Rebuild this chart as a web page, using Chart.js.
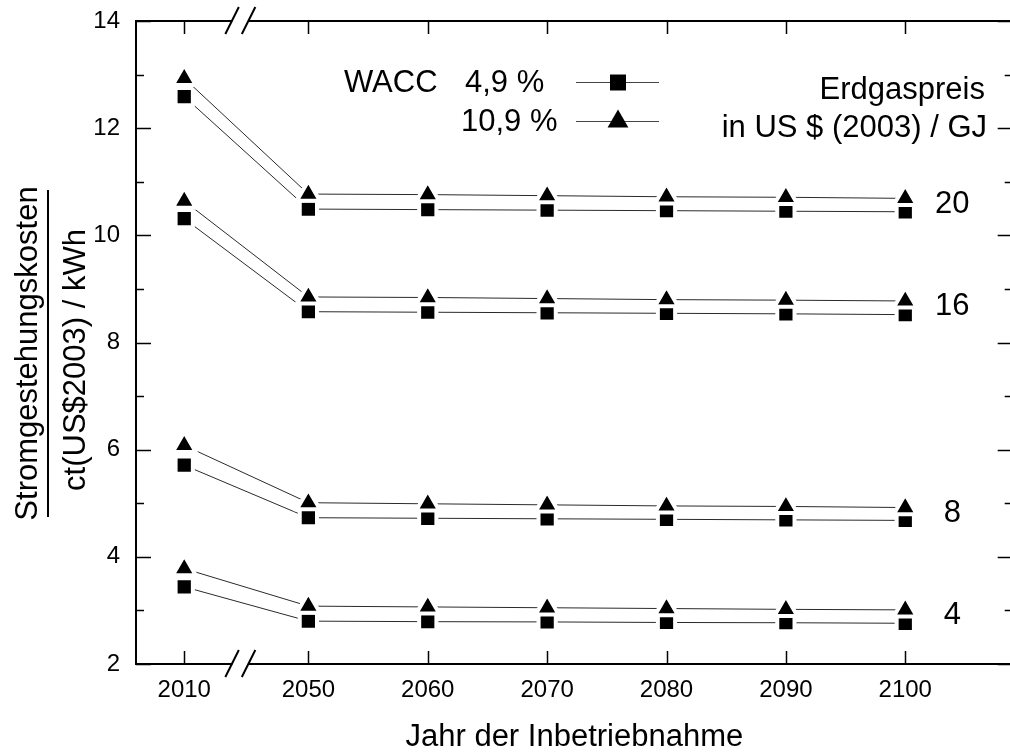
<!DOCTYPE html>
<html lang="de">
<head>
<meta charset="utf-8">
<title>Stromgestehungskosten</title>
<script src="https://cdn.jsdelivr.net/npm/chart.js@4/dist/chart.umd.min.js"></script>
<style>
  html, body { margin: 0; padding: 0; background: #fff; overflow: hidden; }
  #wrap { width: 1030px; height: 756px; }
</style>
</head>
<body>
<div id="wrap"><canvas id="c" width="1030" height="756"></canvas></div>
<script>
// Jahr der Inbetriebnahme
const YEARS = ['2010', '2050', '2060', '2070', '2080', '2090', '2100'];

// Erdgaspreis in US $ (2003) / GJ
const GAS_PRICES = ['20', '16', '8', '4'];

// Stromgestehungskosten, WACC 4,9 %
const WACC49_P20 = [12.59, 10.49, 10.48, 10.47, 10.46, 10.45, 10.44];
const WACC49_P16 = [10.31, 8.575, 8.565, 8.555, 8.545, 8.535, 8.52];
const WACC49_P8  = [5.71, 4.73, 4.72, 4.71, 4.70, 4.69, 4.68];
const WACC49_P4  = [3.44, 2.80, 2.79, 2.785, 2.775, 2.77, 2.76];

// Stromgestehungskosten, WACC 10,9 %
const WACC109_P20 = [12.93, 10.77, 10.76, 10.74, 10.72, 10.71, 10.69];
const WACC109_P16 = [10.64, 8.85, 8.84, 8.82, 8.80, 8.79, 8.775];
const WACC109_P8  = [6.08, 5.01, 4.99, 4.97, 4.95, 4.94, 4.92];
const WACC109_P4  = [3.78, 3.08, 3.065, 3.05, 3.035, 3.02, 3.01];

const Y_TICKS = [2, 4, 6, 8, 10, 12, 14];

// x layout: one slot per year, the first year sits slightly further out
// because of the axis break between 2010 and 2050
const BREAK_SHIFT = 0.04;
const BREAK_AT = 0.43;
const xPos = YEARS.map((_, i) => (i === 0 ? -BREAK_SHIFT : i));

const FONT = "'Liberation Sans', Arial, Helvetica, sans-serif";
Chart.defaults.font.family = FONT;
Chart.defaults.color = '#000';

const LINE = '#2a2a2a';
const SQ_R = 12.2;
const TRI_R = 13.3;
const HALO = 4;

function series(values, style) {
  return {
    data: values.map((v, i) => ({ x: xPos[i], y: v })),
    borderColor: LINE,
    borderWidth: 1,
    pointStyle: style,
    pointRadius: style === 'rect' ? SQ_R : TRI_R,
    pointHoverRadius: style === 'rect' ? SQ_R : TRI_R,
    pointBackgroundColor: '#000',
    pointBorderColor: '#fff',
    pointBorderWidth: HALO,
    fill: false,
    tension: 0,
    order: style === 'rect' ? 2 : 1
  };
}

const squares = [WACC49_P20, WACC49_P16, WACC49_P8, WACC49_P4];
const triangles = [WACC109_P20, WACC109_P16, WACC109_P8, WACC109_P4];

const datasets = [];
squares.forEach((s, k) => datasets.push(Object.assign(series(s, 'rect'), { label: 'WACC 4,9 % / ' + GAS_PRICES[k] })));
triangles.forEach((s, k) => datasets.push(Object.assign(series(s, 'triangle'), { label: 'WACC 10,9 % / ' + GAS_PRICES[k] })));

// frame, inward ticks, axis break, annotations
const decorations = {
  id: 'decorations',
  afterDatasetsDraw(chart) {
    const { ctx, chartArea: a, scales: { x, y } } = chart;
    ctx.save();

    // frame
    ctx.strokeStyle = '#000';
    ctx.lineWidth = 2;
    ctx.strokeRect(a.left, a.top, a.right - a.left, a.bottom - a.top);

    // y ticks (left and right), every unit, labelled ones longer
    ctx.lineWidth = 1.5;
    for (let v = y.min; v <= y.max; v++) {
      const py = Math.round(y.getPixelForValue(v)) + 0.5;
      const len = Y_TICKS.includes(v) ? 15 : 8;
      ctx.beginPath();
      ctx.moveTo(a.left, py); ctx.lineTo(a.left + len, py);
      ctx.moveTo(a.right, py); ctx.lineTo(a.right - len, py);
      ctx.stroke();
    }
    // x ticks (bottom and top)
    xPos.forEach(p => {
      const px = Math.round(x.getPixelForValue(p)) + 0.5;
      ctx.beginPath();
      ctx.moveTo(px, a.bottom); ctx.lineTo(px, a.bottom - 13);
      ctx.moveTo(px, a.top); ctx.lineTo(px, a.top + 13);
      ctx.stroke();
    });

    // axis break marks
    const bx = x.getPixelForValue(BREAK_AT);
    [a.top, a.bottom].forEach(by => {
      ctx.fillStyle = '#fff';
      ctx.fillRect(bx - 8, by - 3, 16, 6);
      ctx.strokeStyle = '#000';
      ctx.lineWidth = 2;
      ctx.beginPath();
      ctx.moveTo(bx - 15, by + 13); ctx.lineTo(bx - 1.5, by - 14);
      ctx.moveTo(bx + 1.5, by + 13); ctx.lineTo(bx + 15, by - 14);
      ctx.stroke();
    });

    // gas price labels at the end of each pair of curves
    ctx.fillStyle = '#000';
    ctx.font = '31px ' + FONT;
    ctx.textAlign = 'center';
    ctx.textBaseline = 'middle';
    const last = YEARS.length - 1;
    GAS_PRICES.forEach((g, k) => {
      const mid = (squares[k][last] + triangles[k][last]) / 2;
      ctx.fillText(g, x.getPixelForValue(xPos[last]) + 47, y.getPixelForValue(mid) - 1);
    });

    // legend
    ctx.textAlign = 'left';
    ctx.fillText('WACC', 344, 83);
    ctx.fillText('4,9 %', 465, 83);
    ctx.fillText('10,9 %', 461, 122);
    ctx.strokeStyle = '#444';
    ctx.lineWidth = 1;
    [[82.5, 'rect', 11.3], [121.5, 'triangle', 12]].forEach(([ly, style, r]) => {
      ctx.beginPath();
      ctx.moveTo(576, ly); ctx.lineTo(659, ly);
      ctx.stroke();
      ctx.save();
      ctx.fillStyle = '#000';
      Chart.helpers.drawPoint(ctx, { pointStyle: style, radius: r, rotation: 0, borderWidth: 0 }, 618, ly);
      ctx.restore();
    });

    ctx.textAlign = 'right';
    ctx.fillText('Erdgaspreis', 985, 90);
    ctx.fillText('in US $ (2003) / GJ', 987, 128);

    // y axis title as a fraction
    ctx.textAlign = 'center';
    ctx.textBaseline = 'alphabetic';
    ctx.save();
    ctx.translate(37, 353.5);
    ctx.rotate(-Math.PI / 2);
    ctx.fillText('Stromgestehungskosten', 0, 0);
    ctx.restore();
    ctx.save();
    ctx.translate(85, 360);
    ctx.rotate(-Math.PI / 2);
    ctx.fillText('ct(US$2003) / kWh', 0, 0);
    ctx.restore();
    ctx.lineWidth = 2;
    ctx.strokeStyle = '#000';
    ctx.beginPath();
    ctx.moveTo(48, 190); ctx.lineTo(48, 517);
    ctx.stroke();

    ctx.restore();
  }
};

function noEdgePadding(scale) {
  scale.paddingTop = 0;
  scale.paddingBottom = 0;
  scale.paddingLeft = 0;
  scale.paddingRight = 0;
}

new Chart(document.getElementById('c'), {
  type: 'line',
  data: { datasets },
  options: {
    responsive: false,
    animation: false,
    devicePixelRatio: 1,
    layout: { padding: { top: 21, right: 14, bottom: 0, left: 0 } },
    plugins: { legend: { display: false }, tooltip: { enabled: false } },
    events: [],
    scales: {
      x: {
        type: 'linear',
        min: -0.444,
        max: 6.9,
        grid: { display: false, drawTicks: false },
        border: { display: false },
        afterBuildTicks(scale) { scale.ticks = xPos.map(v => ({ value: v })); },
        afterFit(scale) { scale.height = 92; noEdgePadding(scale); },
        ticks: {
          autoSkip: false,
          maxRotation: 0,
          padding: 12,
          font: { size: 24 },
          color: '#000',
          callback: (v, i) => YEARS[i]
        },
        title: {
          display: true,
          text: 'Jahr der Inbetriebnahme',
          font: { size: 31 },
          color: '#000',
          padding: { top: 0, bottom: 0 }
        }
      },
      y: {
        min: 2,
        max: 14,
        grid: { display: false, drawTicks: false },
        border: { display: false },
        afterBuildTicks(scale) { scale.ticks = Y_TICKS.map(v => ({ value: v })); },
        afterFit(scale) { scale.width = 136; noEdgePadding(scale); },
        ticks: { padding: 16, font: { size: 24 }, color: '#000' }
      }
    }
  },
  plugins: [decorations]
});
</script>
</body>
</html>
